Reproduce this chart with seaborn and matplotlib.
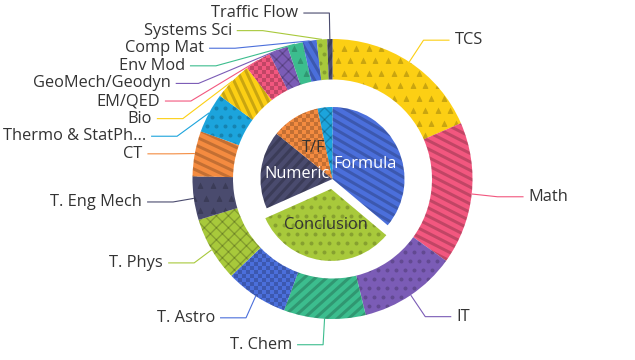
import numpy as np
import matplotlib
matplotlib.use("Agg")
import matplotlib.pyplot as plt
import seaborn as sns
from matplotlib.collections import LineCollection

# ---------------- data ----------------
outer_labels = ["TCS", "Math", "IT", "T. Chem", "T. Astro", "T. Phys", "T. Eng Mech", "CT",
                "Thermo & StatPh...", "Bio", "EM/QED", "GeoMech/Geodyn", "Env Mod",
                "Comp Mat", "Systems Sci", "Traffic Flow"]
outer_values = [92, 82, 56, 47, 36, 37, 25, 26, 23, 22, 15, 11, 9, 8, 6, 3]

inner_labels = ["Formula", "Conclusion", "Numeric", "T/F", "Other"]
inner_values = [130, 116, 63, 39, 12]
inner_selected = [False, True, False, False, False]

# ---------------- style ----------------
palette = ["#fccf14", "#f2577f", "#7b5cb6", "#3cbd8e", "#4b6fdb",
           "#a8c93b", "#4a4b6e", "#f48b40", "#1ca4dc"]
outer_colors = [palette[i % 9] for i in range(len(outer_values))]
inner_colors = [palette[4], palette[5], palette[6], palette[7], palette[8]]

outer_decal = [("tri", 0), ("stripe", -27), ("dots", 0), ("stripe", 42), ("checker", 0),
               ("cross", 0), ("tri", 0), ("stripe", -25), ("dots", 0), ("stripe", -65),
               ("checker", 0), ("cross", 0), ("tri", 0), ("stripe", -60), ("dots", 0),
               ("stripe", 60)]
inner_decal = [("stripe", -30), ("dots", 0), ("stripe", 48), ("checker", 0), ("cross", 0)]

sns.set_theme(style="white")
plt.rcParams["font.family"] = ["Open Sans", "DejaVu Sans"]

W, H = 635, 360
CX, CY = 332.5, 179.0          # screen px (y down)
R_OUT, RING_W = 140.0, 40.5
R_PIE, SEL_OFF = 72.0, 10.0
L1, L2, GAP, LINE_H = 26.0, 26.0, 5.0, 17.6
FS = 11.8
TXT = "#333333"
DEC = (0, 0, 0, 0.2)

fig = plt.figure(figsize=(W / 100, H / 100), dpi=100)
ax = fig.add_axes([0, 0, 1, 1])

wo, _ = ax.pie(outer_values, colors=outer_colors, radius=R_OUT, center=(CX, H - CY),
               startangle=90, counterclock=False,
               wedgeprops=dict(width=RING_W, linewidth=0))
wi, _ = ax.pie(inner_values, colors=inner_colors, radius=R_PIE, center=(CX, H - CY),
               startangle=90, counterclock=False,
               explode=[SEL_OFF if s else 0 for s in inner_selected],
               wedgeprops=dict(linewidth=0))
ax.set_xlim(0, W)
ax.set_ylim(0, H)
ax.set_aspect("equal")
ax.axis("off")


def stripes(bb, angle, sp, lw):
    a = np.deg2rad(angle)
    dv = np.array([np.cos(a), np.sin(a)])
    nv = np.array([-np.sin(a), np.cos(a)])
    c = np.array([(bb[0] + bb[2]) / 2, (bb[1] + bb[3]) / 2])
    h = np.hypot(bb[2] - bb[0], bb[3] - bb[1]) / 2
    base = c @ nv
    segs = []
    for k in np.arange(np.floor((base - h) / sp), np.ceil((base + h) / sp) + 1):
        p = c + nv * (k * sp - base)
        segs.append([p - dv * h, p + dv * h])
    return LineCollection(segs, colors=[DEC], linewidths=lw * 0.72, capstyle="butt")


def grid(bb, sp, stagger):
    pts = []
    ys = np.arange(np.floor(bb[1] / sp) * sp, bb[3] + sp, sp)
    for y in ys:
        off = (sp / 2 if (stagger and int(round(y / sp)) % 2) else 0)
        xs = np.arange(np.floor(bb[0] / sp) * sp, bb[2] + sp, sp) + off
        pts += [(x, y) for x in xs]
    return np.array(pts)


def add_decal(w, kind, angle):
    e = w.get_path().get_extents()
    bb = (e.x0 - 12, e.y0 - 12, e.x1 + 12, e.y1 + 12)
    arts = []
    if kind == "stripe":
        arts.append(ax.add_collection(stripes(bb, angle, 7.5, 3.0)))
    elif kind == "cross":
        arts.append(ax.add_collection(stripes(bb, 45, 8.5, 1.4)))
        arts.append(ax.add_collection(stripes(bb, -45, 8.5, 1.4)))
    elif kind == "dots":
        p = grid(bb, 9.0, True)
        arts.append(ax.scatter(p[:, 0], p[:, 1], s=(4.0 * 0.72) ** 2, marker="o",
                               color=DEC, linewidths=0))
    elif kind == "tri":
        p = grid(bb, 12.5, True)
        arts.append(ax.scatter(p[:, 0], p[:, 1], s=(6.0 * 0.72) ** 2, marker="^",
                               color=DEC, linewidths=0))
    elif kind == "checker":
        sp = 4.0
        p = grid(bb, sp, False)
        keep = ((np.round(p[:, 0] / sp) + np.round(p[:, 1] / sp)) % 2) == 0
        p = p[keep]
        arts.append(ax.scatter(p[:, 0], p[:, 1], s=(sp * 0.72) ** 2, marker="s",
                               color=DEC, linewidths=0))
    for a in arts:
        a.set_clip_path(w)
        a.set_zorder(1.5)


for w, (k, a) in zip(wo, outer_decal):
    add_decal(w, k, a)
for w, (k, a) in zip(wi, inner_decal):
    add_decal(w, k, a)

# ---------------- inner labels ----------------
for w, lab, col in zip(wi, inner_labels, inner_colors):
    span = w.theta2 - w.theta1
    if span < 20:
        continue
    phi = np.deg2rad((w.theta1 + w.theta2) / 2)
    x = w.center[0] + w.r / 2 * np.cos(phi)
    y = w.center[1] + w.r / 2 * np.sin(phi)
    r, g, b = matplotlib.colors.to_rgb(col)
    lum = 0.299 * r + 0.587 * g + 0.114 * b
    ax.text(x, y, lab, ha="center", va="center", fontsize=FS,
            color="white" if lum < 0.5 else TXT, zorder=3)

# ---------------- outer labels (echarts-like layout) ----------------
items = []
for w, lab, col in zip(wo, outer_labels, outer_colors):
    phi = np.deg2rad((w.theta1 + w.theta2) / 2)
    dx, dy = np.cos(phi), -np.sin(phi)
    x1, y1 = CX + R_OUT * dx, CY + R_OUT * dy
    x2, y2 = CX + (R_OUT + L1) * dx, CY + (R_OUT + L1) * dy
    d = -1 if dx < 0 else 1
    x3 = x2 + d * L2
    items.append(dict(label=lab, color=col, dir=d, lx=x3 + d * GAP, ly=y2,
                      pts=[[x1, y1], [x2, y2], [x3, y2]], normal=np.array([dx, dy])))

rA = R_OUT + L1
for d in (-1, 1):
    side = sorted([it for it in items if it["dir"] == d], key=lambda it: it["ly"])
    last, adjusted = 0.0, False
    for it in side:
        delta = (it["ly"] - LINE_H / 2) - last
        if delta < 0:
            it["ly"] -= delta
            adjusted = True
        last = it["ly"] + LINE_H / 2
    if adjusted and len(side) >= 2:
        for semi in ([it for it in side if it["ly"] <= CY], [it for it in side if it["ly"] > CY]):
            if not semi:
                continue
            far = max(semi, key=lambda it: abs(it["ly"] - CY))
            fdy = abs(far["ly"] - CY)
            fdx = far["lx"] - CX - L2 * d
            rB = np.sqrt(fdy ** 2 / (1 - fdx ** 2 / rA ** 2)) if abs(fdx) < rA else rA
            for it in semi:
                ddy = abs(it["ly"] - CY)
                ex = np.sqrt(max(0.0, 1 - ddy ** 2 / rB ** 2)) * rA
                it["lx"] = CX + (ex + L2) * d
    for it in side:
        p = it["pts"]
        dist = p[1][0] - p[2][0]
        p[2][0] = it["lx"] - d * GAP
        p[1][0] = p[2][0] + dist
        p[1][1] = p[2][1] = it["ly"]
        # limit surface angle (90 deg)
        p0, p1, p2 = (np.array(q, float) for q in p)
        v1 = p1 - p0
        v2 = p2 - p1
        if np.linalg.norm(v1) > 1e-3 and np.linalg.norm(v2) > 1e-3:
            v1 /= np.linalg.norm(v1)
            v2 /= np.linalg.norm(v2)
            if v1 @ it["normal"] < 0:
                proj = p1 + ((p0 - p1) @ v2) * v2
                dd = np.linalg.norm(p0 - proj)
                ang2 = np.arccos(np.clip(v2 @ it["normal"], -1, 1))
                if ang2 >= np.pi / 2:
                    newp = p2
                else:
                    newp = proj + v2 * dd / np.tan(np.pi / 2 - ang2)
                    t = (newp[0] - p1[0]) / (p2[0] - p1[0])
                    if t < 0:
                        newp = p1
                    elif t > 1:
                        newp = p2
                p[1] = list(newp)

for it in items:
    xs = [q[0] for q in it["pts"]]
    ys = [H - q[1] for q in it["pts"]]
    ax.plot(xs, ys, color=it["color"], lw=0.8, zorder=2, solid_capstyle="butt")
    ax.text(it["lx"], H - it["ly"], it["label"], ha="right" if it["dir"] < 0 else "left",
            va="center", fontsize=FS, color=TXT, zorder=3)

fig.savefig("out.png", dpi=100)
